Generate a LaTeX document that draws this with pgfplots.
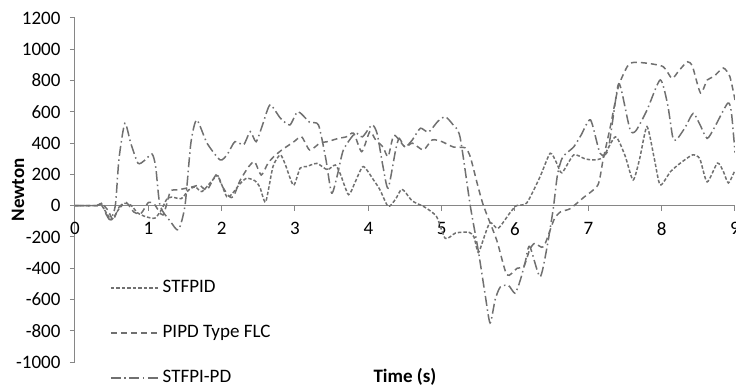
\documentclass[border=0pt]{standalone}
\usepackage{pgfplots}
\pgfplotsset{compat=1.18}
\usepackage{fontspec}
\setmainfont{Carlito}
\definecolor{axgray}{RGB}{134,134,134}
\definecolor{lg}{RGB}{112,112,112}
\newcommand{\chartfont}{\fontsize{19}{22}\selectfont}
\begin{document}
\begin{tikzpicture}[font=\chartfont]
\begin{axis}[
  at={(0,0)}, anchor=south west,
  scale only axis, width=660pt, height=344pt,
  xmin=0, xmax=9, ymin=-1000, ymax=1200,
  axis x line=middle, axis y line=left,
  axis line style={axgray, line width=1pt, -},
  xtick={0,1,...,9}, ytick={-1000,-800,...,1200},
  tick style={axgray, line width=1pt},
  major tick length=5pt,
  tick align=outside,
  hide obscured x ticks=false,
  /pgf/number format/assume math mode=true,
  /pgf/number format/set thousands separator={},
  xticklabel={\chartfont\pgfmathprintnumber{\tick}},
  yticklabel={\chartfont\pgfmathprintnumber{\tick}},
  xticklabel style={yshift=-8pt, text=black},
  yticklabel style={xshift=-6pt, text=black},
  xlabel={\chartfont\bfseries Time (s)},
  ylabel={\chartfont\bfseries Newton},
  every axis x label/.style={at={(axis description cs:0.5,0)}, anchor=center, yshift=-15pt},
  every axis y label/.style={at={(axis description cs:-0.0864,0.5)}, anchor=center, rotate=90},
  legend style={draw=none, fill=none, at={(axis description cs:0.053,0.2485)}, anchor=north west,
    row sep=22pt, inner sep=0pt, font=\chartfont, nodes={inner sep=3pt, text height=13pt, text depth=4pt},
    cells={anchor=west}},
  legend image code/.code={\draw[#1] (0pt,0pt) -- (48pt,0pt);},
  every axis plot/.append style={lg, line width=1.5pt, smooth, tension=0.4},
]
\addplot[dash pattern=on 3.5pt off 2pt] coordinates {
(0,0) (0.3,0) (0.35,10) (0.42,-40) (0.5,-90) (0.6,-20) (0.68,15) (0.77,0) (0.85,-45)
(0.96,-70) (1.09,-80) (1.18,-25) (1.25,40) (1.32,55) (1.45,45) (1.55,100) (1.64,120)
(1.73,90) (1.88,165) (1.95,190) (2.07,57) (2.15,80) (2.25,140) (2.34,175) (2.45,160)
(2.52,120) (2.6,24) (2.7,250) (2.8,325) (2.87,260) (2.98,130) (3.07,240) (3.16,250)
(3.3,270) (3.44,230) (3.55,260) (3.62,200) (3.73,70) (3.82,150) (3.93,250) (4.07,165)
(4.16,100) (4.27,-5) (4.37,40) (4.46,105) (4.6,30) (4.77,-10) (4.93,-70) (5.05,-210)
(5.19,-175) (5.37,-170) (5.44,-200) (5.5,-300) (5.58,-200) (5.66,-108) (5.77,-145)
(5.93,-47) (6.02,0) (6.16,17) (6.34,183) (6.48,335) (6.57,270) (6.64,210) (6.8,324)
(6.95,300) (7.07,292) (7.2,310) (7.37,440) (7.5,320) (7.61,164) (7.7,300) (7.8,505)
(7.9,300) (7.98,132) (8.12,217) (8.25,270) (8.42,324) (8.52,300) (8.62,152) (8.76,272)
(8.84,220) (8.91,145) (9.0,227)
};
\addlegendentry{STFPID}
\addplot[dash pattern=on 6pt off 4pt] coordinates {
(0,0) (0.3,0) (0.36,15) (0.45,-30) (0.52,-90) (0.6,-10) (0.7,20) (0.8,-40) (0.9,-50)
(1.0,20) (1.08,10) (1.2,-60) (1.3,90) (1.4,100) (1.5,110) (1.6,120) (1.7,130) (1.8,100)
(1.93,200) (2.0,130) (2.1,60) (2.16,57) (2.25,160) (2.37,250) (2.45,280) (2.54,196)
(2.63,270) (2.71,313) (2.82,356) (2.98,407) (3.09,440) (3.2,356) (3.34,400) (3.45,410)
(3.59,430) (3.7,440) (3.8,463) (3.91,345) (4.02,473) (4.1,420) (4.2,375) (4.27,313)
(4.35,450) (4.5,375) (4.6,400) (4.75,356) (4.87,420) (5.0,410) (5.16,375) (5.32,370)
(5.39,313) (5.48,150) (5.57,0) (5.75,-220) (5.89,-443) (6.03,-400) (6.12,-390)
(6.2,-283) (6.27,-240) (6.39,-263) (6.53,-92) (6.62,-40) (6.75,-20) (6.93,50) (7.13,132)
(7.2,290) (7.3,505) (7.41,760) (7.53,889) (7.6,915) (7.78,912) (8.02,889) (8.14,814)
(8.23,860) (8.35,920) (8.42,890) (8.53,720) (8.62,803) (8.71,825) (8.84,880) (8.93,825)
(9.0,676)
};
\addlegendentry{PIPD Type FLC}
\addplot[dash pattern=on 10pt off 3.5pt on 1.5pt off 3.5pt] coordinates {
(0,0) (0.3,0) (0.36,15) (0.42,-50) (0.48,-90) (0.55,0) (0.6,300) (0.68,527) (0.76,400)
(0.86,271) (0.95,290) (1.05,330) (1.1,250) (1.16,0) (1.3,-100) (1.41,-155) (1.5,0)
(1.58,400) (1.66,548) (1.8,400) (1.98,292) (2.08,330) (2.18,409) (2.3,390) (2.39,473)
(2.47,409) (2.56,520) (2.66,644) (2.8,560) (2.93,516) (3.04,601) (3.2,533) (3.32,516)
(3.42,300) (3.5,80) (3.58,200) (3.66,356) (3.82,463) (3.92,440) (4.05,516) (4.12,460)
(4.2,250) (4.27,112) (4.37,350) (4.42,430) (4.5,375) (4.6,420) (4.71,495) (4.82,470)
(4.95,540) (5.05,568) (5.15,520) (5.25,440) (5.39,0) (5.5,-290) (5.59,-560) (5.66,-750)
(5.73,-600) (5.8,-520) (5.91,-510) (6.0,-560) (6.07,-480) (6.14,-360) (6.2,-260)
(6.34,-455) (6.43,-283) (6.52,-25) (6.58,200) (6.65,310) (6.8,375) (6.9,450) (7.03,548)
(7.16,335) (7.27,360) (7.4,760) (7.45,740) (7.57,484) (7.65,480) (7.8,611) (7.98,804)
(8.08,650) (8.15,440) (8.2,420) (8.32,500) (8.43,590) (8.52,520) (8.62,430) (8.72,500)
(8.9,655) (8.95,600) (9.0,340)
};
\addlegendentry{STFPI-PD}
\end{axis}
\pgfresetboundingbox
\path[use as bounding box] (-75pt,-26pt) rectangle (661pt,362pt);
\end{tikzpicture}
\end{document}
